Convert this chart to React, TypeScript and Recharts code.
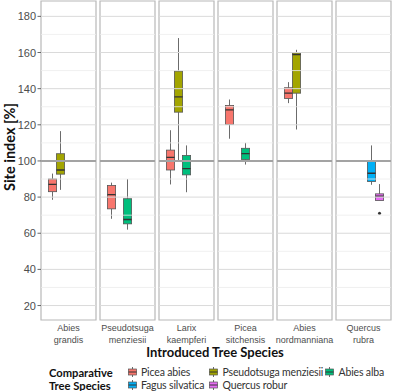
import React from 'react';
import { BarChart, Bar, XAxis, YAxis, ReferenceLine, ReferenceArea } from 'recharts';

// introduced species (one facet each) and comparative species (dodged boxes)
const introduced = ['Abies grandis', 'Pseudotsuga menziesii', 'Larix kaempferi', 'Picea sitchensis', 'Abies nordmanniana', 'Quercus rubra'];
const comparative = ['Picea abies', 'Pseudotsuga menziesii', 'Abies alba', 'Fagus silvatica', 'Quercus robur'];
const colors = ['#F8766D', '#A3A500', '#00BF7D', '#00B0F6', '#E76BF3'];

// box stats per facet: [lower whisker, q1, median, q3, upper whisker]
const piceaAbies = [[78.5, 83, 87, 90, 93], [68, 73.5, 81.4, 86.4, 88], [87, 95, 102, 106, 117], [112.3, 120.2, 128.3, 130.7, 134], [132, 134.6, 137.5, 140.5, 143.6], null];
const pseudotsuga = [[84, 92.7, 95, 104, 116.5], null, [100, 127, 135.5, 149.7, 168], null, [117.4, 137.5, 158.8, 159.7, 161.5], null];
const abiesAlba = [null, [62, 65.2, 67.6, 79.1, 90], [82.7, 92.3, 95.7, 103, 108.6], [98, 100.8, 104, 107, 110], null, null];
const fagus = [null, null, null, null, null, [86.8, 88.6, 93.2, 99.9, 108.6]];
const quercus = [null, null, null, null, null, [78, 78.1, 80.5, 81.8, 87.2]];
const quercusOutliers = [[], [], [], [], [], [71]];

const stats = [piceaAbies, pseudotsuga, abiesAlba, fagus, quercus];
const outliers = [[], [], [], [], quercusOutliers];

const majorTicks = [20, 40, 60, 80, 100, 120, 140, 160, 180];
const minorTicks = [30, 50, 70, 90, 110, 130, 150, 170];
const domain: [number, number] = [12, 188.5];

const tickFont = '"Liberation Sans", Arial, sans-serif';
const titleFont = 'Lato, "Open Sans", sans-serif';

const makeBox = (j: number) => (props: any) => {
  const { x, y, width, height, payload } = props;
  const s = payload['s' + j];
  if (!s) return <g />;
  const top = Math.min(y, y + height);
  const bot = Math.max(y, y + height);
  const py = (v: number) => bot - ((v - s[0]) / (s[4] - s[0])) * (bot - top);
  const cx = x + width / 2;
  const outs: number[] = payload['o' + j] || [];
  return (
    <g>
      <line x1={cx} x2={cx} y1={py(s[4])} y2={py(s[3])} stroke="#5a5a5a" strokeWidth={0.9} />
      <line x1={cx} x2={cx} y1={py(s[1])} y2={py(s[0])} stroke="#5a5a5a" strokeWidth={0.9} />
      <rect x={x + 0.4} y={py(s[3])} width={width - 0.8} height={py(s[1]) - py(s[3])} fill={colors[j]} stroke="#555" strokeWidth={0.8} />
      <line x1={x + 0.4} x2={x + width - 0.4} y1={py(s[2])} y2={py(s[2])} stroke="#333" strokeWidth={1.3} />
      {outs.map((o, k) => (
        <circle key={k} cx={cx} cy={py(o)} r={1.5} fill="#333" />
      ))}
    </g>
  );
};

const SiteTick = (props: any) => {
  const { x, y, payload } = props;
  const words = String(payload.value).split(' ');
  return (
    <text x={x} y={y} textAnchor="middle" fill="#4d4d4d" fontSize={9} fontFamily={tickFont}>
      {words.map((w, i) => (
        <tspan key={i} x={x} dy={i === 0 ? 11 : 12}>{w}</tspan>
      ))}
    </text>
  );
};

const ValueTick = (props: any) => {
  const { x, y, payload } = props;
  return (
    <g>
      <line x1={x - 3.5} x2={x} y1={y} y2={y} stroke="#555" strokeWidth={0.9} />
      <text x={x - 5} y={y} dy={4} textAnchor="end" fill="#4d4d4d" fontSize={11} fontFamily={tickFont}>
        {payload.value}
      </text>
    </g>
  );
};

const LegendKey = ({ color }: { color: string }) => (
  <svg width={9} height={10} style={{ verticalAlign: 'middle', flex: 'none' }}>
    <line x1={4.5} x2={4.5} y1={0} y2={10} stroke="#5a5a5a" strokeWidth={0.9} />
    <rect x={0.5} y={2} width={8} height={6} fill={color} stroke="#555" strokeWidth={0.7} />
    <line x1={0.5} x2={8.5} y1={5} y2={5} stroke="#333" strokeWidth={1} />
  </svg>
);

const Panel = ({ i }: { i: number }) => {
  const first = i === 0;
  const row: any = { site: introduced[i] };
  stats.forEach((s, j) => {
    row['s' + j] = s[i];
    row['o' + j] = outliers[j][i] || [];
  });
  const data = [row];
  return (
    <BarChart
      width={first ? 98 : 59}
      height={345}
      data={data}
      margin={{ top: 1, right: 2, bottom: 0, left: first ? 0 : 2 }}
      barGap={-1}
    >
      <XAxis dataKey="site" type="category" axisLine={false} tickLine={false} tickSize={0} tickMargin={0} height={25} interval={0} tick={<SiteTick />} />
      <YAxis
        type="number"
        domain={domain}
        allowDataOverflow
        ticks={majorTicks}
        hide={!first}
        width={41}
        axisLine={false}
        tickLine={false}
        tickSize={0}
        tickMargin={0}
        tick={<ValueTick />}
      />
      {minorTicks.map((v) => (
        <ReferenceLine key={'m' + v} y={v} stroke="#ececec" strokeWidth={0.8} />
      ))}
      {majorTicks.map((v) => (
        <ReferenceLine key={'M' + v} y={v} stroke="#dadada" strokeWidth={1} />
      ))}
      <ReferenceLine y={100} stroke="#a3a3a3" strokeWidth={2} />
      <ReferenceArea y1={domain[0]} y2={domain[1]} fill="none" fillOpacity={0} stroke="#b8b8b8" strokeWidth={1.2} />
      {comparative.map((name, j) => (
        <Bar
          key={name}
          name={name}
          dataKey={(d: any) => (d['s' + j] ? [d['s' + j][0], d['s' + j][4]] : null)}
          barSize={9}
          fill={colors[j]}
          shape={makeBox(j)}
          isAnimationActive={false}
        />
      ))}
    </BarChart>
  );
};

const legendCols = [127.5, 209, 325];

export default function App() {
  return (
    <div style={{ position: 'absolute', left: 0, top: 0, width: 395, height: 391, background: '#fff', fontFamily: titleFont }}>
      <style>{'svg { overflow: visible; }'}</style>
      <div
        style={{
          position: 'absolute',
          left: 8.5,
          top: 147,
          transform: 'translate(-50%, -50%) rotate(-90deg)',
          whiteSpace: 'nowrap',
          fontWeight: 700,
          fontSize: 14.5,
          color: '#111',
        }}
      >
        Site index [%]
      </div>
      <div style={{ display: 'flex', position: 'absolute', left: 0, top: 0 }}>
        {introduced.map((_, i) => (
          <Panel key={i} i={i} />
        ))}
      </div>
      <div
        style={{
          position: 'absolute',
          left: 215,
          top: 352,
          transform: 'translate(-50%, -50%)',
          whiteSpace: 'nowrap',
          fontWeight: 700,
          fontSize: 13,
          color: '#111',
        }}
      >
        Introduced Tree Species
      </div>
      <div style={{ position: 'absolute', left: 49, top: 365.5, fontWeight: 700, fontSize: 11.2, lineHeight: '13.5px', color: '#111', whiteSpace: 'nowrap' }}>
        Comparative
        <br />
        Tree Species
      </div>
      {comparative.map((name, j) => (
        <div
          key={name}
          style={{
            position: 'absolute',
            left: legendCols[j % 3],
            top: j < 3 ? 366 : 378.5,
            whiteSpace: 'nowrap',
            fontSize: 10.5,
            letterSpacing: -0.15,
            lineHeight: '12px',
            height: 12,
            color: '#333',
            display: 'flex',
            alignItems: 'center',
            gap: 4.5,
          }}
        >
          <LegendKey color={colors[j]} />
          <span>{name}</span>
        </div>
      ))}
    </div>
  );
}
